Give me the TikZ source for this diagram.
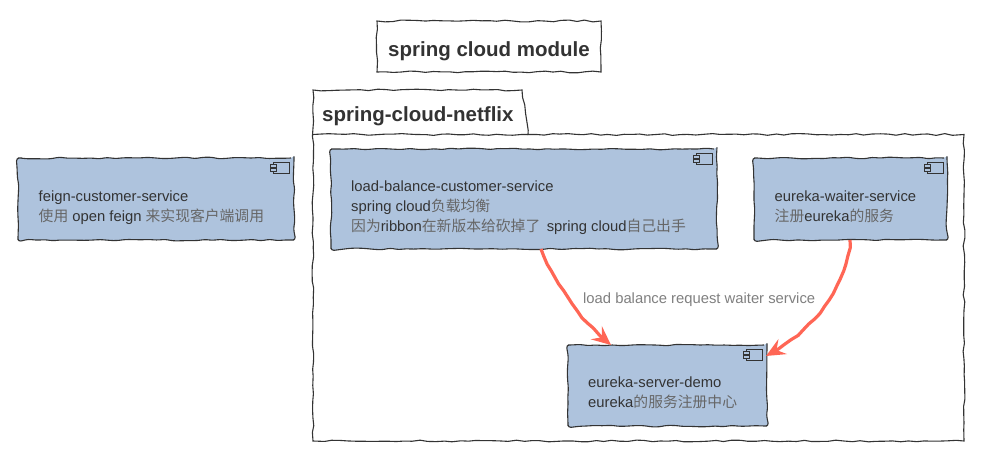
\documentclass[tikz,border=0pt]{standalone}
\usepackage{fontspec}
\setmainfont{Liberation Sans}
\newfontfamily\cjk{Noto Sans CJK SC}
\usetikzlibrary{decorations.pathmorphing,arrows.meta,calc}
\definecolor{compfill}{HTML}{AEC3DD}
\definecolor{inkc}{HTML}{333333}
\definecolor{edgec}{HTML}{FF6655}
\definecolor{labc}{HTML}{808080}
\newcommand{\zh}[1]{{\cjk\color{inkc!75}#1}}
\tikzset{
  x=1pt,y=-1pt,
  wavy/.style={decorate,decoration={random steps,segment length=8pt,amplitude=0.9pt}},
  compbox/.style={draw=inkc,line width=1.1pt,fill=compfill,rounded corners=3pt,wavy,inner sep=0pt,outer sep=0pt,anchor=north west},
  plainbox/.style={draw=inkc,line width=1.1pt,fill=white,wavy,inner sep=0pt,outer sep=0pt,anchor=north west},
  comptext/.style={font=\fontsize{14.8}{20}\selectfont,text=inkc,align=left,anchor=north west,inner sep=0pt},
  boldtext/.style={font=\fontsize{20.5}{24}\selectfont\bfseries,text=inkc,inner sep=0pt},
  edgeline/.style={draw=edgec,line width=3.2pt,-{Stealth[length=19pt,width=17pt,inset=7pt]},wavy,decoration={random steps,segment length=8pt,amplitude=0.8pt,post length=14pt}},
  icon/.pic={
    \draw[inkc,line width=1pt,fill=compfill] (-16,4) rectangle (0,15);
    \draw[inkc,line width=1pt,fill=compfill] (-19,6.5) rectangle (-13,9);
    \draw[inkc,line width=1pt,fill=compfill] (-19,10.5) rectangle (-13,13);
  }
}
\begin{document}
\begin{tikzpicture}
\pgfmathsetseed{7}
\useasboundingbox[fill=white] (0,0) rectangle (985,453);
% title
\node[plainbox,minimum width=224pt,minimum height=51pt] (title) at (377,21) {};
\node[boldtext] (titletext) at (489,51) {spring cloud module};
% package
\draw[plainbox] (313,90) -- (522,90) -- (528,134.5) -- (964,134.5) -- (964,441) -- (313,441) -- cycle;
\draw[draw=inkc,line width=1.1pt,wavy] (313,134.5) -- (528,134.5);
\node[boldtext,anchor=base west] (pkg) at (322,121) {spring-cloud-netflix};
% components
\node[compbox,minimum width=276pt,minimum height=82pt] (feign) at (18,158) {};
\node[compbox,minimum width=386pt,minimum height=100pt] (load) at (331,149) {};
\node[compbox,minimum width=193pt,minimum height=82pt] (waiter) at (754,158) {};
\node[compbox,minimum width=199pt,minimum height=81pt] (server) at (568,345) {};
\pic at ($(feign.north east)+(-5,0)$) {icon};
\pic at ($(load.north east)+(-5,0)$) {icon};
\pic at ($(waiter.north east)+(-4,0)$) {icon};
\pic at ($(server.north east)+(-5,0)$) {icon};
\node[comptext] (feignt) at (38.5,190.5) {feign-customer-service\\\zh{使用} open feign \zh{来实现客户端调用}};
\node[comptext] (loadt) at (351,180.5) {load-balance-customer-service\\spring cloud\zh{负载均衡}\\\zh{因为}ribbon\zh{在新版本给砍掉了}\hspace{6.5pt}spring cloud\zh{自己出手}};
\node[comptext] (waitert) at (774.5,190.5) {eureka-waiter-service\\\zh{注册}eureka\zh{的服务}};
\node[comptext] (servert) at (588,376.5) {eureka-server-demo\\eureka\zh{的服务注册中心}};
% connectors
\coordinate (l1) at ($(load.south west)+(210,0)$);
\coordinate (s1) at ($(server.north west)+(43,0)$);
\coordinate (w1) at ($(waiter.south west)+(96,0)$);
\coordinate (s2) at ($(server.north east)+(-1,11)$);
\draw[edgeline] (l1) .. controls (556,285) and (580,320) .. (s1);
\draw[edgeline] (w1) .. controls (848,285) and (815,330) .. (s2);
\node[font=\fontsize{14.8}{16}\selectfont,text=labc,anchor=base west,inner sep=0pt] (edgelab) at (583,303) {load balance request waiter service};
\end{tikzpicture}
\end{document}
